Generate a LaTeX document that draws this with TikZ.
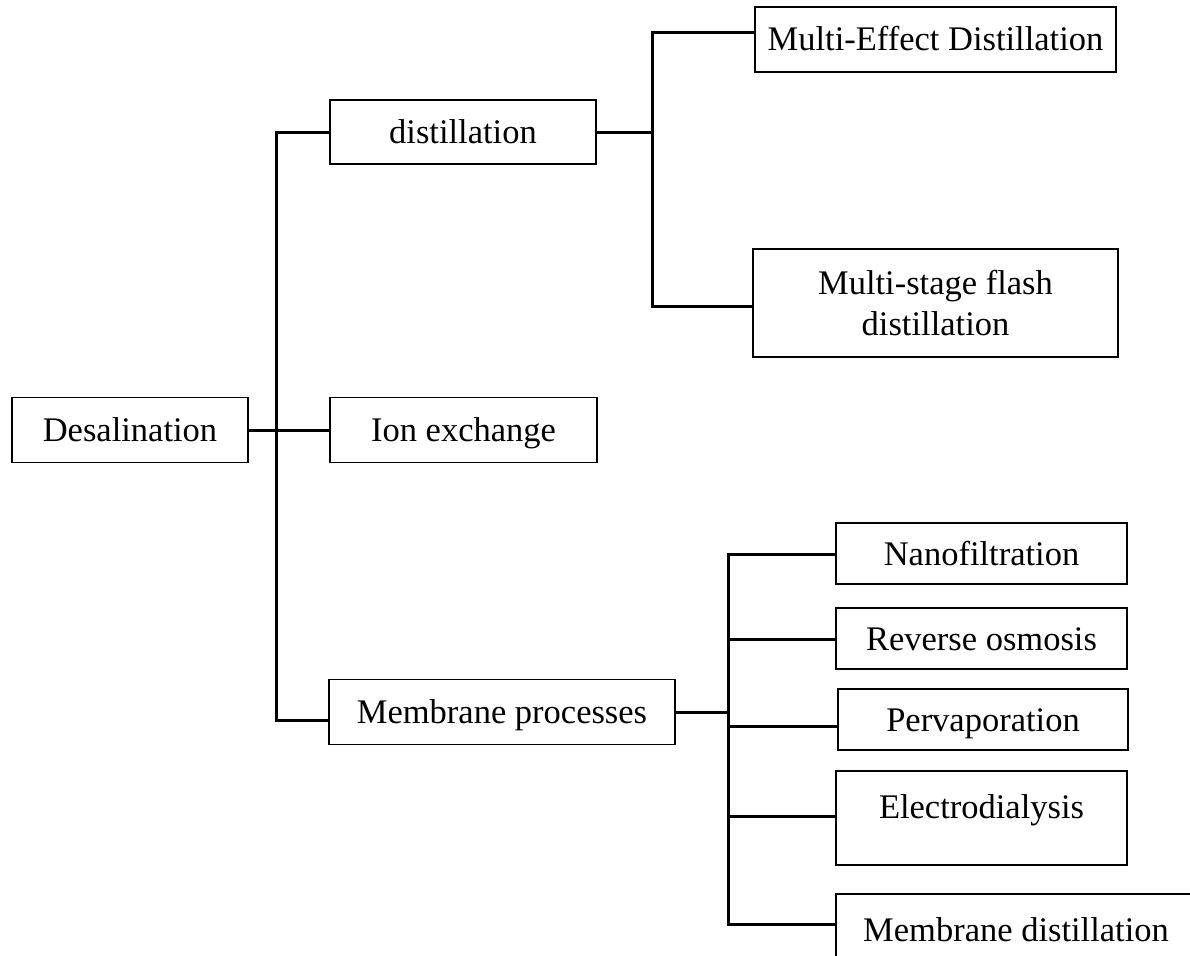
\documentclass[tikz,border=0pt]{standalone}
\usepackage{fontspec}
\setmainfont{Liberation Serif}
\usepackage{tikz}

\begin{document}
\begin{tikzpicture}[x=1pt,y=-1pt,every node/.style={font=\fontsize{34.5}{41}\selectfont},
  procbox/.style={draw,line width=1.6pt,inner sep=0pt,align=center},
  onebox/.style={procbox,text height=23pt,text depth=0pt},
  branch/.style={line width=3pt}]
  \clip (0,0) rectangle (1190,955);

  \node[onebox,minimum width=236pt,minimum height=65pt] (desal) at (130,430) {Desalination};
  \node[onebox,minimum width=266pt,minimum height=64pt] (dist) at (463,132) {distillation};
  \node[onebox,minimum width=267pt,minimum height=65pt] (ion) at (463.5,430) {Ion exchange};
  \node[onebox,minimum width=346pt,minimum height=65pt] (memb) at (502,712) {Membrane processes};

  \node[onebox,minimum width=361pt,minimum height=65pt] (med) at (935.5,39.5) {Multi-Effect Distillation};
  \node[procbox,minimum width=365pt,minimum height=108pt] (msf) at (935.5,303) {Multi-stage flash\\distillation};

  \node[onebox,minimum width=291pt,minimum height=61pt] (nano) at (981.5,553.5) {Nanofiltration};
  \node[onebox,minimum width=291pt,minimum height=61pt] (ro) at (981.5,638.5) {Reverse osmosis};
  \node[onebox,minimum width=290pt,minimum height=61pt] (perv) at (983,719.5) {Pervaporation};
  \node[onebox,text depth=23pt,minimum width=291pt,minimum height=94pt] (elec) at (981.5,818) {Electrodialysis};
  \node[onebox,minimum width=360pt,minimum height=71pt] (md) at (1016,929.5) {Membrane distillation};

  \coordinate (t1) at (276,720);
  \draw[branch] (dist.west) -| (t1) -- (t1 -| memb.west);
  \draw[branch] (desal.east) -- (ion.west);

  \coordinate (t2top) at (652,33);
  \coordinate (t2bot) at (652,306);
  \draw[branch] (t2top -| med.west) -- (t2top) -- (t2bot) -- (t2bot -| msf.west);
  \draw[branch] (dist.east) -- (dist.east -| t2top);

  \coordinate (t3top) at (728,554);
  \coordinate (t3bot) at (728,924);
  \draw[branch] (t3top -| nano.west) -- (t3top) -- (t3bot) -- (t3bot -| md.west);
  \draw[branch] (memb.east) -- (memb.east -| t3top);
  \coordinate (b-ro) at (728,639);
  \coordinate (b-perv) at (728,726);
  \coordinate (b-elec) at (728,816);
  \foreach \n in {ro,perv,elec}
    \draw[branch] (b-\n) -- (b-\n -| \n.west);
\end{tikzpicture}
\end{document}
